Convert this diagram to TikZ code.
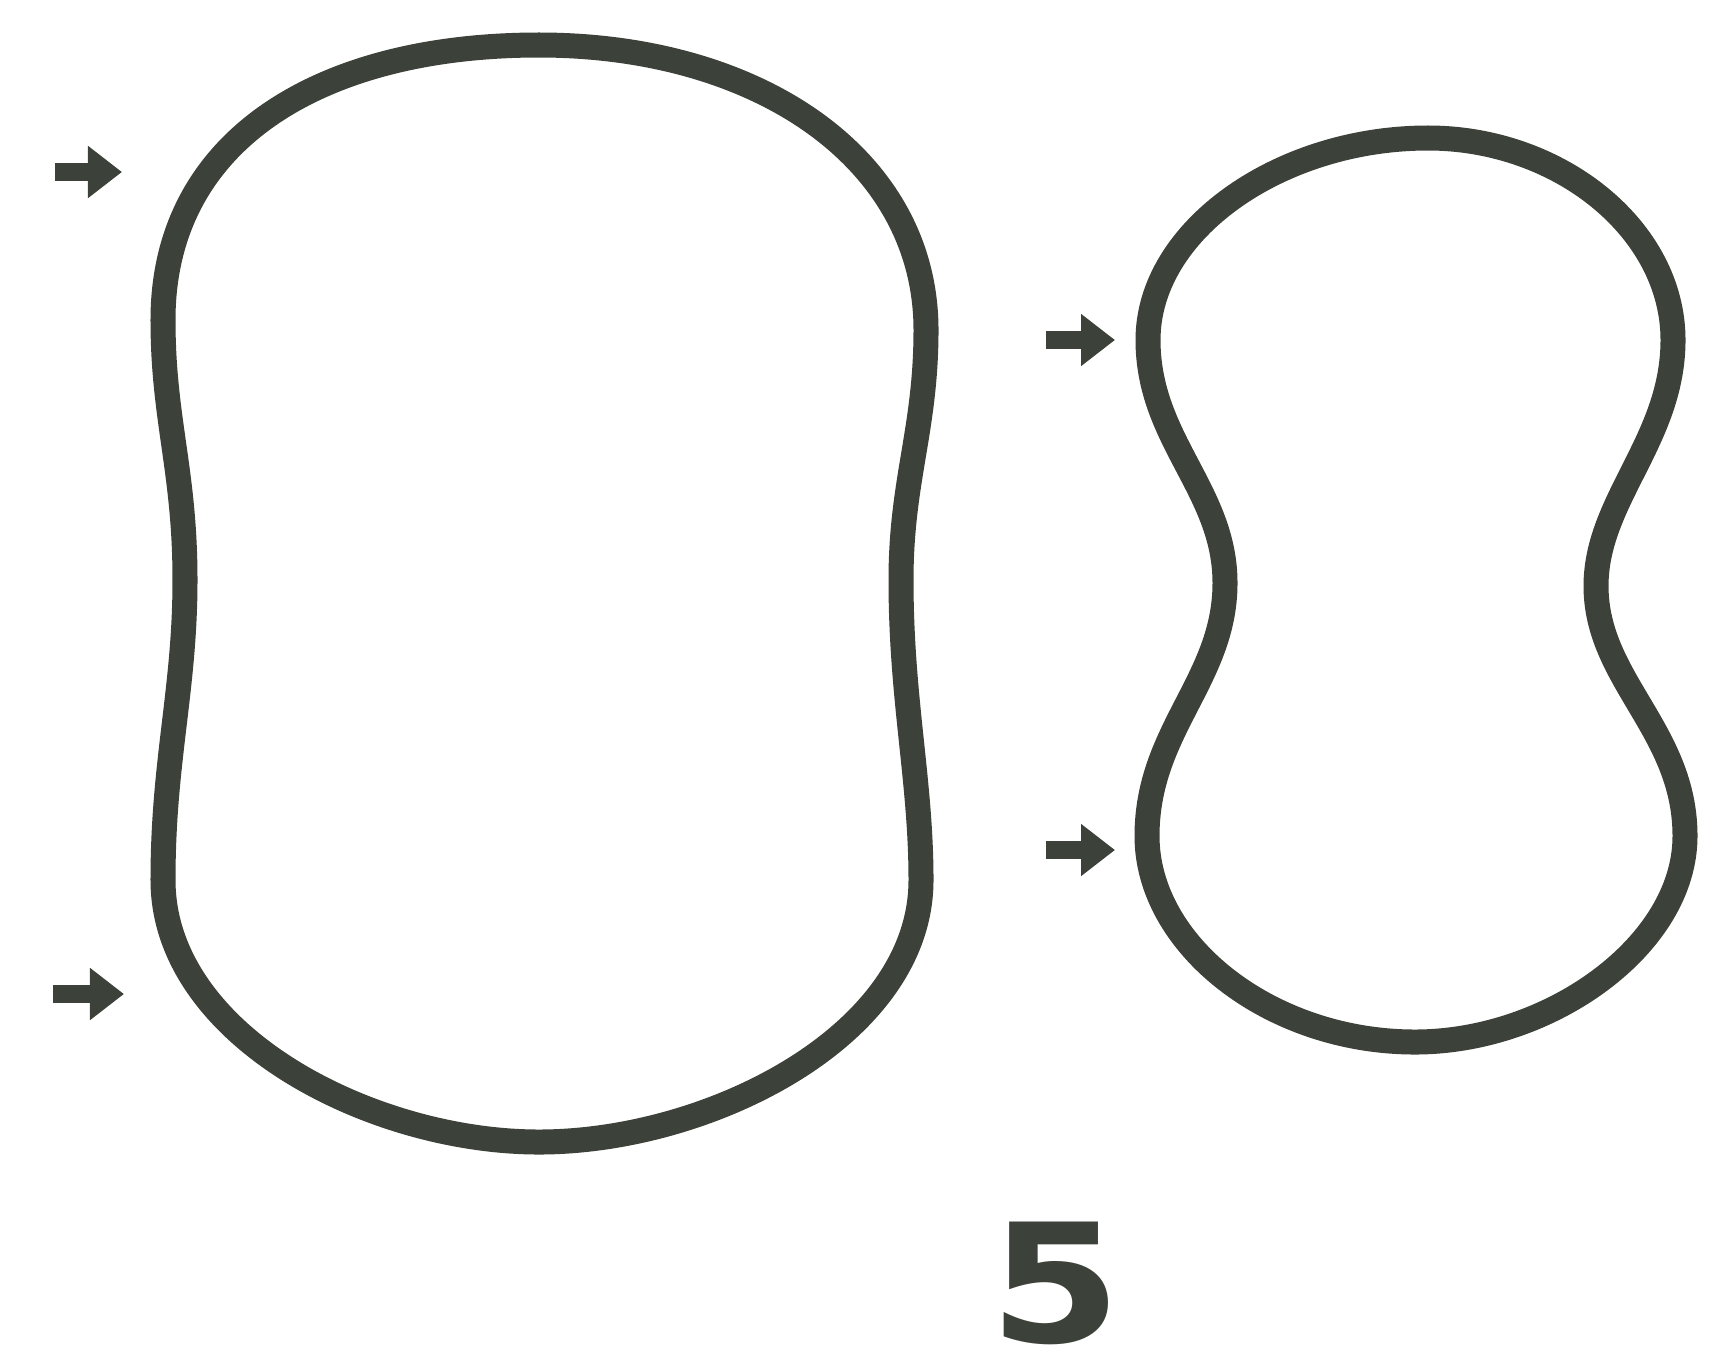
\documentclass[tikz,border=0pt]{standalone}
\usepackage{fontspec}
\setmainfont{DejaVu Sans}
\newfontfamily\numfont[FakeStretch=1.15]{DejaVu Sans}
\usetikzlibrary{arrows.meta}
\definecolor{ink}{RGB}{60,66,57}
\tikzset{
  outline/.style={draw=ink, line width=0.25cm, line join=round},
  pointer/.style={draw=ink, line width=0.18cm, -{Triangle[length=0.34cm,width=0.5cm]}},
}
\begin{document}
\begin{tikzpicture}[x=0.01cm,y=-0.01cm]
\useasboundingbox (0,0) rectangle (1725,1357);
% left shape
\draw[outline] (539,45)
  .. controls (760,45) and (926,160) .. (926,330)
  .. controls (926,430) and (901,480) .. (901,580)
  .. controls (901,700) and (921,780) .. (921,880)
  .. controls (921,1035) and (710,1142) .. (539,1142)
  .. controls (370,1142) and (163,1035) .. (163,880)
  .. controls (163,760) and (185,690) .. (185,580)
  .. controls (185,470) and (163,420) .. (163,320)
  .. controls (163,140) and (320,45) .. cycle;
% right shape
\draw[outline] (1428,138)
  .. controls (1560,138) and (1673,230) .. (1673,340)
  .. controls (1673,440) and (1596,500) .. (1596,586)
  .. controls (1596,680) and (1685,730) .. (1685,836)
  .. controls (1685,945) and (1550,1042) .. (1415,1042)
  .. controls (1270,1042) and (1147,945) .. (1147,836)
  .. controls (1147,730) and (1225,680) .. (1225,583)
  .. controls (1225,490) and (1148,440) .. (1148,340)
  .. controls (1148,230) and (1280,138) .. cycle;
% arrows
\coordinate (a1s) at (55,172);   \coordinate (a1e) at (122,172);
\coordinate (a2s) at (53,994);   \coordinate (a2e) at (124,994);
\coordinate (a3s) at (1046,340); \coordinate (a3e) at (1115,340);
\coordinate (a4s) at (1046,850); \coordinate (a4e) at (1115,850);
\draw[pointer] (a1s) -- (a1e);
\draw[pointer] (a2s) -- (a2e);
\draw[pointer] (a3s) -- (a3e);
\draw[pointer] (a4s) -- (a4e);
\node[text=ink, inner sep=2pt, font=\numfont\bfseries\fontsize{47}{47}\selectfont] (num) at (1056,1283) {5};
\end{tikzpicture}
\end{document}
